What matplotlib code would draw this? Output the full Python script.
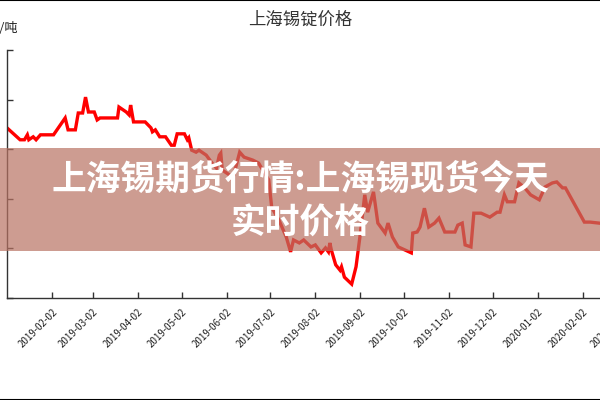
import matplotlib
matplotlib.use("Agg")
import matplotlib.pyplot as plt
import matplotlib.dates as mdates
from matplotlib.lines import Line2D
from matplotlib.patches import Rectangle
import pandas as pd

plt.rcParams['font.family'] = ['Noto Sans CJK SC', 'DejaVu Sans']

title = "上海锡锭价格"
unit = "元/吨"
overlay_text = "上海锡期货行情:上海锡现货今天\n实时价格"

dates = [
    "2019-01-02", "2019-01-11", "2019-01-14", "2019-01-16", "2019-01-17", "2019-01-20",
    "2019-01-22", "2019-01-25", "2019-02-03", "2019-02-11", "2019-02-13", "2019-02-18",
    "2019-02-20", "2019-02-23", "2019-02-25", "2019-02-27", "2019-03-03", "2019-03-05",
    "2019-03-07", "2019-03-19", "2019-03-20", "2019-03-25", "2019-03-27", "2019-03-28",
    "2019-03-30", "2019-04-07", "2019-04-11", "2019-04-12", "2019-04-14", "2019-04-17",
    "2019-04-21", "2019-04-25", "2019-04-27", "2019-04-29", "2019-05-04", "2019-05-06",
    "2019-05-07", "2019-05-09", "2019-05-12", "2019-05-14", "2019-05-19", "2019-05-23",
    "2019-05-26", "2019-05-28", "2019-05-29", "2019-05-30", "2019-06-04", "2019-06-06",
    "2019-06-11", "2019-06-14", "2019-06-20", "2019-06-24", "2019-06-26", "2019-07-01",
    "2019-07-03", "2019-07-08", "2019-07-13", "2019-07-16", "2019-07-18", "2019-07-22",
    "2019-07-25", "2019-07-30", "2019-08-02", "2019-08-06", "2019-08-09", "2019-08-11",
    "2019-08-12", "2019-08-13", "2019-08-16", "2019-08-19", "2019-08-20", "2019-08-22",
    "2019-08-27", "2019-08-30", "2019-09-02", "2019-09-04", "2019-09-05", "2019-09-07",
    "2019-09-11", "2019-09-14", "2019-09-19", "2019-09-21", "2019-09-24", "2019-09-28",
    "2019-10-07", "2019-10-08", "2019-10-11", "2019-10-13", "2019-10-16", "2019-10-19",
    "2019-10-23", "2019-10-26", "2019-10-30", "2019-11-06", "2019-11-08", "2019-11-11",
    "2019-11-13", "2019-11-17", "2019-11-19", "2019-11-24", "2019-11-30", "2019-12-05",
    "2019-12-07", "2019-12-10", "2019-12-12", "2019-12-17", "2019-12-20", "2019-12-24",
    "2019-12-28", "2020-01-03", "2020-01-07", "2020-01-12", "2020-01-15", "2020-01-19",
    "2020-01-21", "2020-02-03", "2020-02-07", "2020-02-13",
]
prices = [
    144300, 141900, 141900, 142900, 141900, 142500,
    141900, 142900, 142900, 146300, 143900, 143900,
    147300, 147300, 150500, 147500, 147500, 145900,
    146300, 146300, 148500, 147500, 146900, 148900,
    145500, 145500, 144300, 143500, 143900, 142500,
    142500, 140800, 140800, 143100, 143100, 141900,
    142300, 139800, 139400, 139800, 138800, 137200,
    136200, 138800, 139200, 135800, 134800, 133800,
    139400, 138400, 137800, 137200, 136200, 133800,
    128300, 125700, 122300, 119300, 121700, 121100,
    121700, 120300, 120700, 119100, 120100, 119300,
    121100, 119700, 116700, 115600, 116300, 114200,
    112800, 116300, 123100, 128300, 130800, 127300,
    131400, 125100, 123100, 125100, 122300, 120300,
    119100, 123100, 123300, 124300, 128100, 124300,
    125100, 126100, 123300, 123300, 124700, 125100,
    120700, 120300, 127100, 127100, 126300, 127300,
    127300, 130800, 129400, 129400, 133200, 132200,
    130800, 129800, 132400, 133200, 133400, 132200,
    132200, 125300, 125300, 125100,
]
tick_dates = pd.date_range("2019-01-02", "2020-03-02", freq="MS") + pd.Timedelta(days=1)
y_ticks = [110000, 120000, 130000, 140000, 150000, 160000]

x = pd.to_datetime(dates)

fig = plt.figure(figsize=(6, 4), dpi=100)
# axes run past the right edge, as in the cropped original
ax = fig.add_axes([7 / 600, 102 / 400, 637 / 600, 248 / 400])
ax.plot(x, prices, color="#ff0000", lw=2.4, solid_joinstyle="miter")

ax.set_xlim(pd.Timestamp("2019-01-02"), pd.Timestamp("2020-03-15"))
ax.set_ylim(y_ticks[0], y_ticks[-1])
ax.set_yticks(y_ticks)
ax.set_yticklabels([])
ax.set_xticks(tick_dates)
ax.xaxis.set_major_formatter(mdates.DateFormatter("%Y-%m-%d"))
for lab in ax.get_xticklabels():
    lab.set_rotation(45)
    lab.set_ha("right")
    lab.set_rotation_mode("anchor")
    lab.set_fontsize(7)
    lab.set_color("#222222")
ax.tick_params(direction="in", length=4, width=1, color="#333333", pad=6)
for s in ["top", "right"]:
    ax.spines[s].set_visible(False)
for s in ["left", "bottom"]:
    ax.spines[s].set_color("#333333")
    ax.spines[s].set_linewidth(1)

fig.text(300 / 600, 1 - 20 / 400, title, ha="center", va="center", fontsize=12.5, color="#333333")
fig.text(-14 / 600, 1 - 28 / 400, unit, ha="left", va="center", fontsize=9.5, color="#222222")

# translucent banner with headline
fig.add_artist(Rectangle((0, 1 - 251 / 400), 1, 103 / 400, transform=fig.transFigure,
                         facecolor=(184 / 255, 114 / 255, 99 / 255), alpha=0.7, lw=0))
fig.text(0.5, 1 - 201 / 400, overlay_text, ha="center", va="center", fontsize=25,
         color="white", fontweight="black", linespacing=1.3)

fig.add_artist(Line2D([0, 1], [0.999, 0.999], transform=fig.transFigure, color="black", lw=1.5))
fig.add_artist(Line2D([0, 1], [0.001, 0.001], transform=fig.transFigure, color="black", lw=1.5))

fig.savefig("out.png", dpi=100)
